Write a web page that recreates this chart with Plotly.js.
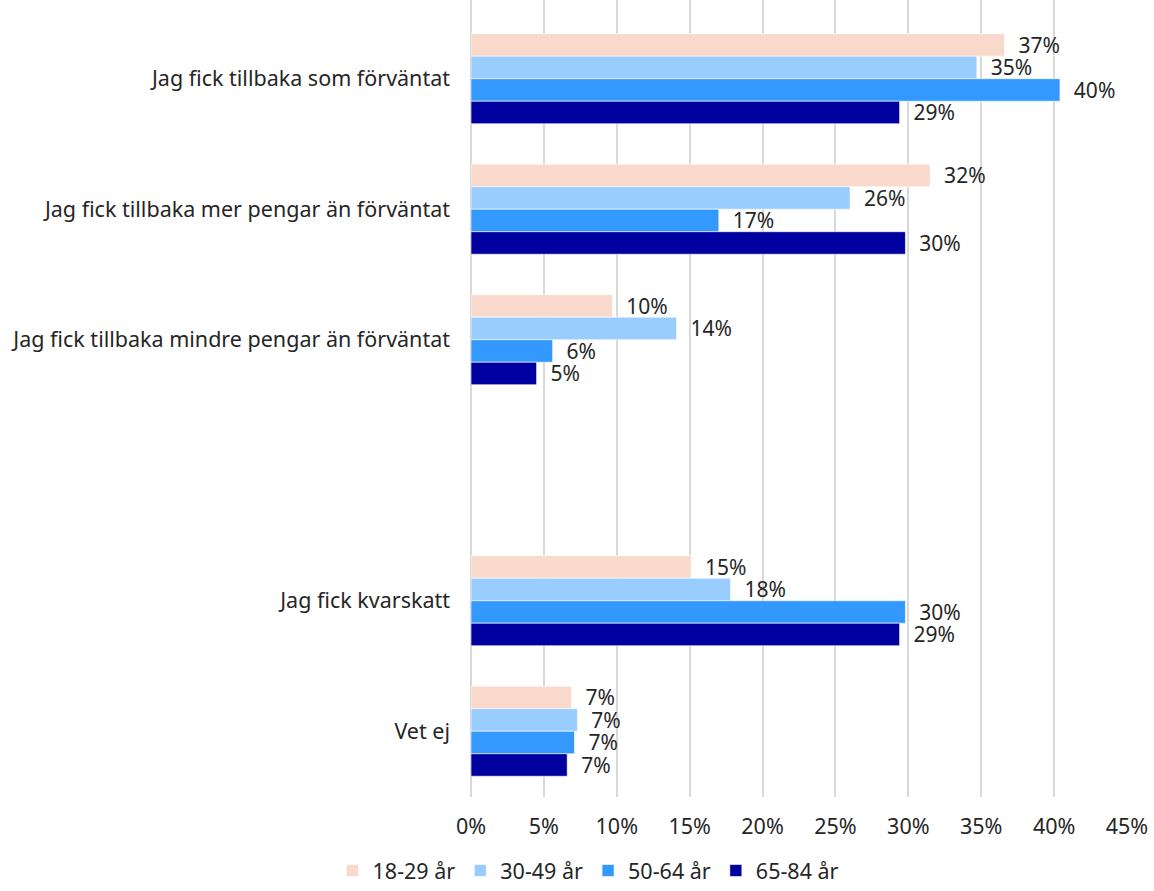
<!DOCTYPE html>
<html>
<head>
<meta charset="utf-8">
<script src="https://cdn.plot.ly/plotly-3.0.1.min.js"></script>
<style>html,body{margin:0;padding:0;background:#fff;}#chart{width:1154px;height:891px;}</style>
</head>
<body>
<div id="chart"></div>
<script>
const categories = [
  "Jag fick tillbaka som förväntat",
  "Jag fick tillbaka mer pengar än förväntat",
  "Jag fick tillbaka mindre pengar än förväntat",
  " ",
  "Jag fick kvarskatt",
  "Vet ej"
];
const seriesNames = ["18-29 år", "30-49 år", "50-64 år", "65-84 år"];
const colors = ["#F9D9CB", "#99CCFF", "#3399FF", "#0000A0"];
const v1829 = [36.6, 31.5, 9.7, null, 15.1, 6.9];
const v3049 = [34.7, 26.0, 14.1, null, 17.8, 7.3];
const v5064 = [40.4, 17.0, 5.6, null, 29.8, 7.1];
const v6584 = [29.4, 29.8, 4.5, null, 29.4, 6.6];
const seriesValues = [v1829, v3049, v5064, v6584];
const xTickVals = [0,5,10,15,20,25,30,35,40,45];
const xTickText = ["0%","5%","10%","15%","20%","25%","30%","35%","40%","45%"];

const font = "Noto Sans, Open Sans, sans-serif";
const traces = seriesValues.map((vals, i) => ({
  type: "bar",
  orientation: "h",
  name: seriesNames[i],
  y: categories,
  x: vals,
  marker: {color: colors[i], line: {color: "#ffffff", width: 0.6}},
  text: vals.map(v => v == null ? "" : "\u00a0\u00a0" + Math.round(v) + "%"),
  textposition: "outside",
  constraintext: "none",
  cliponaxis: false,
  textfont: {family: font, size: 21, color: "#262626"},
  hoverinfo: "skip"
}));

const layout = {
  width: 1154, height: 891,
  paper_bgcolor: "#fff", plot_bgcolor: "#fff",
  margin: {l: 471, r: 27, t: 0, b: 94},
  barmode: "group",
  bargap: 0.31,
  bargroupgap: 0,
  font: {family: font, size: 21.5, color: "#262626"},
  xaxis: {
    range: [0, 45],
    tickvals: xTickVals, ticktext: xTickText,
    showgrid: true, gridcolor: "#d9d9d9", gridwidth: 2,
    zeroline: true, zerolinecolor: "#d9d9d9", zerolinewidth: 2,
    showline: false, ticks: "",
    ticklabelstandoff: 14,
    tickfont: {family: font, size: 21.5, color: "#262626"},
    fixedrange: true
  },
  yaxis: {
    type: "category",
    categoryorder: "array", categoryarray: categories,
    range: [5.504, -0.603],
    showgrid: false, zeroline: false, showline: false, ticks: "",
    ticklabelstandoff: 20,
    tickfont: {family: font, size: 21.5, color: "#262626"},
    fixedrange: true
  },
  showlegend: true,
  legend: {
    orientation: "h",
    xref: "container", yref: "container",
    x: 0.51, xanchor: "center",
    y: 0.046, yanchor: "top",
    font: {family: font, size: 21.5, color: "#262626"},
    itemwidth: 30,
    traceorder: "normal"
  }
};

Plotly.newPlot("chart", traces, layout, {displayModeBar: false, staticPlot: true});
</script>
</body>
</html>
